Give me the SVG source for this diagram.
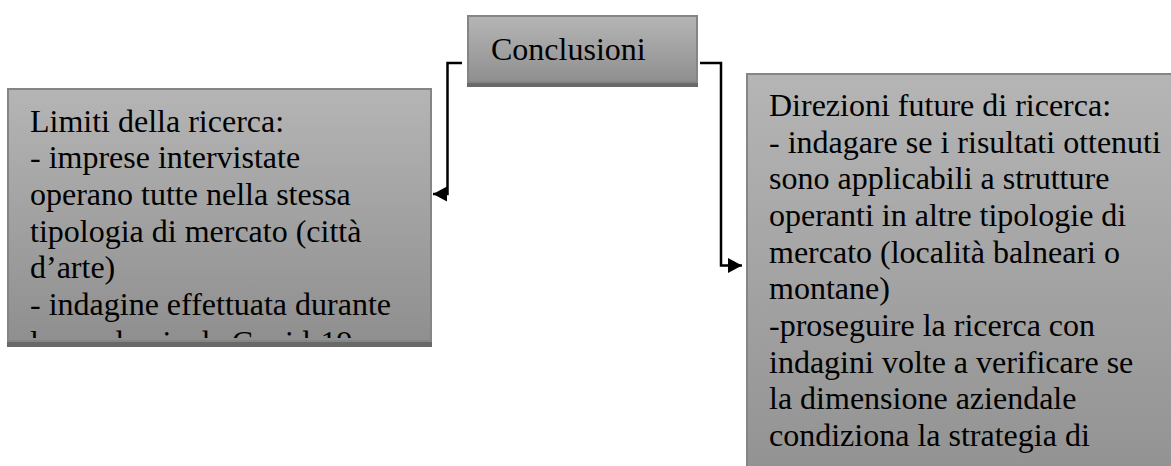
<svg xmlns="http://www.w3.org/2000/svg" width="1171" height="466" viewBox="0 0 1171 466">
<style>
.box{fill:url(#g);stroke:#858585;stroke-width:2}
.shadow{fill:#696969}
.t{font-size:32px;fill:#000}
.conn{fill:none;stroke:#000;stroke-width:2.5}
</style>
<defs>
<linearGradient id="g" x1="0" y1="0" x2="0" y2="1">
<stop offset="0" stop-color="#b5b5b5"/>
<stop offset="1" stop-color="#8f8f8f"/>
</linearGradient>
<marker id="arr" markerUnits="userSpaceOnUse" markerWidth="16" markerHeight="16" refX="14" refY="7.5" orient="auto">
<path d="M0,0 L14,7.5 L0,15 z" fill="#000"/>
</marker>
<clipPath id="clipL"><rect x="9" y="90" width="421" height="248"/></clipPath>
</defs>
<rect width="1171" height="466" fill="#fff"/>
<g id="connectors">
<path class="conn" d="M462,63 H447.5 V194 H433" marker-end="url(#arr)"/>
<path class="conn" d="M700,63 H721 V265.5 H742" marker-end="url(#arr)"/>
</g>
<g id="node-conclusioni">
<rect class="shadow" x="467" y="21" width="231" height="66"/>
<rect class="box" x="468" y="16" width="229" height="66"/>
<text class="t" font-family="'Liberation Serif', 'DejaVu Serif', serif" x="491" y="60">Conclusioni</text>
</g>
<g id="node-limiti">
<rect class="shadow" x="7" y="95" width="425" height="252"/>
<rect class="box" x="8" y="89" width="423" height="252"/>
<g clip-path="url(#clipL)">
<text class="t" font-family="'Liberation Serif', 'DejaVu Serif', serif">
<tspan x="30" y="131.7">Limiti della ricerca:</tspan>
<tspan x="30" y="168.3">- imprese intervistate</tspan>
<tspan x="30" y="205">operano tutte nella stessa</tspan>
<tspan x="30" y="241.7">tipologia di mercato (città</tspan>
<tspan x="30" y="278.3">d’arte)</tspan>
<tspan x="30" y="315">- indagine effettuata durante</tspan>
<tspan x="30" y="352.5">la pandemia da Covid-19</tspan>
</text>
</g>
</g>
<g id="node-direzioni">
<rect class="shadow" x="746" y="80" width="440" height="440"/>
<rect class="box" x="747" y="74" width="440" height="440"/>
<text class="t" font-family="'Liberation Serif', 'DejaVu Serif', serif">
<tspan x="769" y="116">Direzioni future di ricerca:</tspan>
<tspan x="769" y="152.7">- indagare se i risultati ottenuti</tspan>
<tspan x="769" y="189.3">sono applicabili a strutture</tspan>
<tspan x="769" y="226">operanti in altre tipologie di</tspan>
<tspan x="769" y="262.7">mercato (località balneari o</tspan>
<tspan x="769" y="299.3">montane)</tspan>
<tspan x="769" y="336">-proseguire la ricerca con</tspan>
<tspan x="769" y="372.7">indagini volte a verificare se</tspan>
<tspan x="769" y="409.3">la dimensione aziendale</tspan>
<tspan x="769" y="446">condiziona la strategia di</tspan>
</text>
</g>
</svg>
